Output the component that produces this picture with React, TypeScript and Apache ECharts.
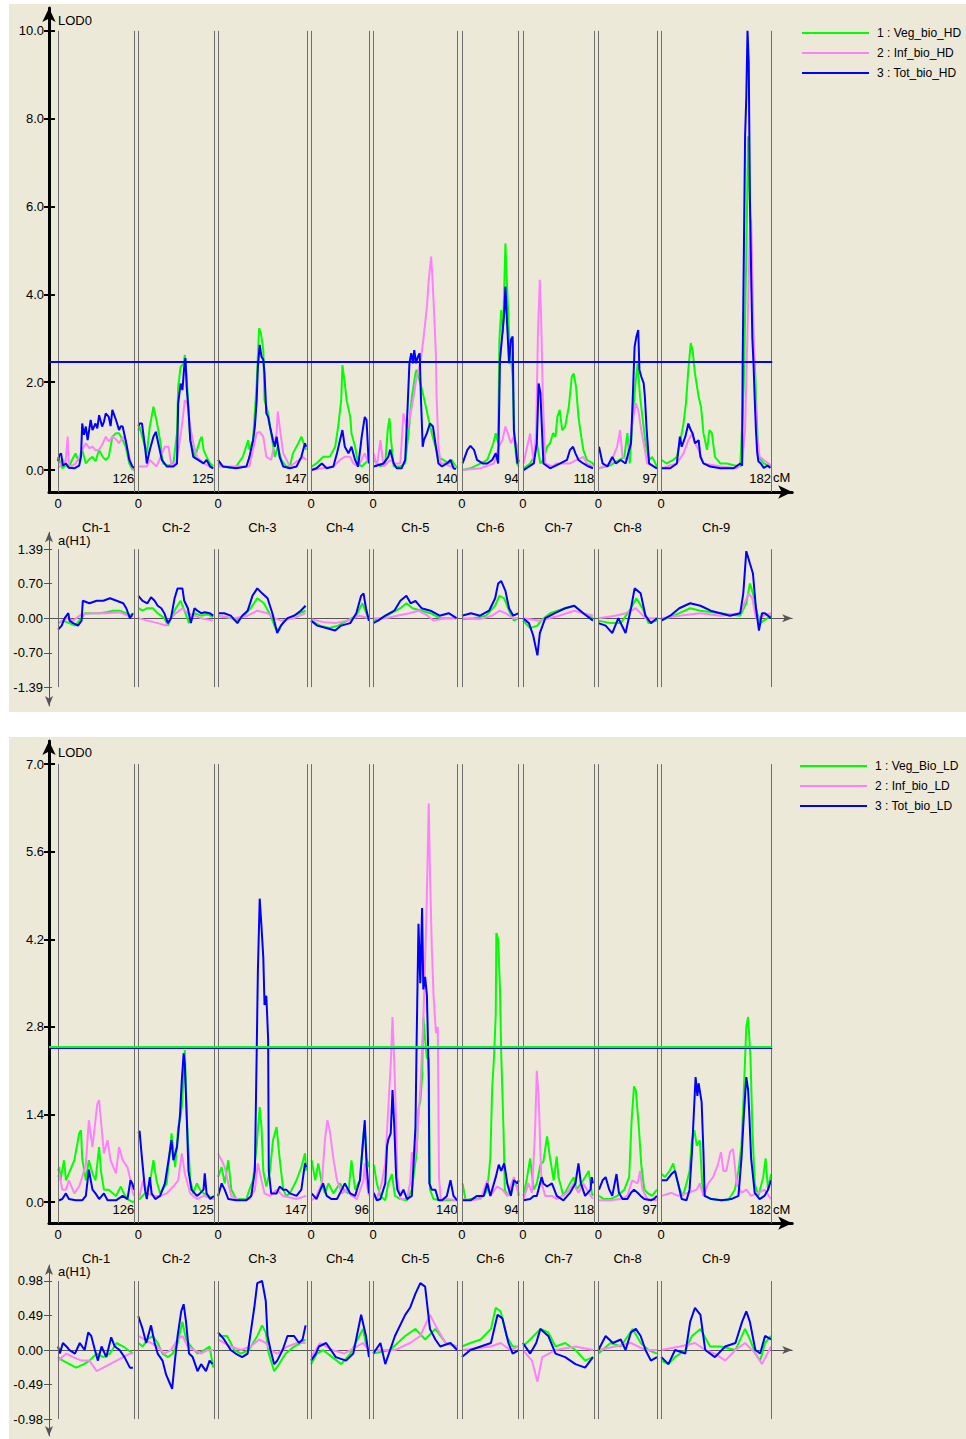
import React, { useEffect, useRef } from 'react';
import * as echarts from 'echarts';

// ---------------- data ----------------
const CHROM_NAMES = ['Ch-1', 'Ch-2', 'Ch-3', 'Ch-4', 'Ch-5', 'Ch-6', 'Ch-7', 'Ch-8', 'Ch-9'];
const CHROM_LENGTHS = [126, 125, 147, 96, 140, 94, 118, 97, 182];
const CHROM_GAP = 7;

const LOD_TICKS_HD = [0, 2, 4, 6, 8, 10];
const LOD_TICKS_LD = [0, 1.4, 2.8, 4.2, 5.6, 7.0];
const ADD_TICKS_HD = [-1.39, -0.7, 0, 0.7, 1.39];
const ADD_TICKS_LD = [-0.98, -0.49, 0, 0.49, 0.98];

const THRESHOLD_HD = 2.47;
const THRESHOLD_LD_VEG = 2.48;
const THRESHOLD_LD_TOT = 2.46;

const NAMES_HD = ['1 : Veg_bio_HD', '2 : Inf_bio_HD', '3 : Tot_bio_HD'];
const NAMES_LD = ['1 : Veg_Bio_LD', '2 : Inf_bio_LD', '3 : Tot_bio_LD'];
const COLORS = ['#00FF00', '#FF80FF', '#0000FF'];

// [cM within chromosome, LOD] per chromosome
const lodVegHD = [
  [[0,0.3],[2,0.23],[7,0.04],[12,0.1],[18,0.08],[24,0.25],[29,0.38],[34,0.2],[40,0.46],[46,0.15],[52,0.25],[57,0.3],[62,0.2],[68,0.46],[74,0.3],[79,0.23],[84,0.3],[90,0.76],[96,0.84],[101,0.84],[107,0.68],[112,0.53],[118,0.15],[123,0.02],[126,0]],
  [[0,0.9],[2,0.99],[8,0.68],[14,0.38],[19,0.99],[25,1.44],[30,1.14],[36,0.68],[41,0.15],[50,0.1],[58,0.15],[64,0.84],[66,1.9],[70,2.35],[75,2.43],[77,2.62],[80,2.13],[86,0.68],[94,0.3],[102,0.68],[105,0.76],[108,0.46],[113,0.3],[119,0.15],[124,0.08]],
  [[0,0.15],[8,0.08],[20,0.05],[30,0.08],[41,0.3],[50,0.68],[52,0.46],[58,0.68],[64,1.97],[68,3.23],[71,3.11],[75,2.73],[77,1.59],[83,1.29],[86,0.99],[88,0.84],[94,0.3],[99,0.53],[105,0.23],[113,0.08],[119,0.08],[124,0.38],[133,0.61],[138,0.76],[144,0.53],[146,0.46]],
  [[1,0.08],[9,0.15],[20,0.3],[31,0.3],[40,0.53],[45,0.99],[50,1.59],[52,2.39],[56,1.97],[59,1.59],[65,1.21],[67,0.84],[73,0.53],[78,0.15],[84,0.08],[89,0.15],[96,0.23]],
  [[1,0.23],[12,0.08],[20,0.15],[24,0.91],[27,1.18],[29,0.76],[34,0.08],[45,0.08],[53,0.15],[59,0.91],[64,1.67],[70,2.2],[72,2.28],[75,2.13],[81,1.82],[86,1.52],[92,1.14],[97,0.84],[103,0.53],[108,0.3],[116,0.23],[125,0.15],[130,0.23],[137,0.08],[140,0.05]],
  [[1,0],[14,0.04],[31,0.15],[42,0.23],[52,0.61],[56,0.84],[60,0.61],[62,2.96],[65,3.64],[68,3.11],[72,5.16],[75,4.1],[78,3.11],[81,2.58],[84,2.13],[87,0.68],[91,0.15],[94,0.08]],
  [[1,0.04],[12,0.15],[18,0.3],[23,0.61],[29,0.15],[34,0.23],[40,0.53],[45,0.61],[50,0.84],[54,0.76],[57,1.21],[61,1.37],[65,0.91],[70,0.99],[76,1.44],[81,2.13],[84,2.2],[88,1.9],[92,1.21],[95,0.91],[100,0.46],[106,0.23],[116,0.15],[118,0.1]],
  [[1,0.04],[20,0.11],[43,0.3],[48,0.84],[52,0.15],[56,1.06],[62,2.05],[65,2.43],[69,1.67],[73,1.21],[78,0.61],[84,0.23],[89,0.3],[97,0.08]],
  [[1,0.23],[9,0.15],[20,0.23],[26,0.3],[31,0.61],[37,1.06],[41,1.52],[45,2.28],[49,2.89],[52,2.73],[56,2.2],[62,1.67],[66,1.44],[70,0.84],[76,0.46],[80,0.91],[84,0.84],[89,0.3],[98,0.15],[109,0.15],[120,0.11],[131,0.08],[135,1.29],[137,2.05],[141,4.9],[144,7.6],[146,6.5],[149,5.0],[151,3.6],[153,2.89],[156,2.13],[158,1.29],[161,0.3],[170,0.15],[181,0.08]],
];
const lodInfHD = [
  [[0,0.05],[4,0.1],[8,0.25],[12,0.1],[16,0.76],[18,0.05],[24,0.1],[29,0.15],[35,0.3],[40,0.46],[46,0.61],[52,0.5],[57,0.53],[62,0.45],[68,0.46],[74,0.6],[79,0.76],[84,0.65],[90,0.76],[96,0.7],[101,0.61],[105,0.7],[109,0.76],[114,0.55],[118,0.3],[123,0.05],[126,0.02]],
  [[0,0.08],[2,0.08],[14,0.08],[19,0.23],[30,0.08],[44,0.53],[50,0.53],[55,0.08],[64,0.23],[72,0.99],[77,1.59],[81,1.52],[86,0.99],[91,0.61],[97,0.3],[108,0.15],[124,0.04]],
  [[0,0.08],[30,0.08],[52,0.08],[58,0.46],[64,0.84],[69,0.87],[75,0.76],[80,0.3],[88,0.23],[97,0.84],[99,1.33],[102,0.99],[108,0.38],[119,0.08],[141,0.3],[146,0.23]],
  [[1,0],[37,0.08],[48,0.23],[56,0.3],[65,0.3],[70,0.15],[78,0.08],[89,0.38],[95,0.15]],
  [[1,0.38],[6,0.08],[12,0.68],[17,0.08],[23,0.15],[28,0.23],[36,0.15],[45,0.15],[50,1.29],[56,0.91],[61,1.21],[67,1.67],[72,2.13],[78,2.43],[83,2.96],[89,3.72],[92,4.33],[96,4.86],[98,4.4],[101,3.57],[104,2.58],[105,1.67],[108,0.53],[112,0.15],[119,0.15],[128,0.08],[137,0.08]],
  [[1,0],[31,0.04],[53,0.15],[61,0.53],[67,0.68],[72,0.99],[76,0.84],[81,0.61],[86,0.76],[92,0.53],[94,0.15]],
  [[1,0.15],[7,0.53],[12,0.83],[18,0.15],[22,0.91],[25,3.19],[28,4.33],[30,3.57],[33,1.67],[37,0.15],[48,0.08],[56,0.15],[78,0.15],[89,0.23],[100,0.3],[106,0.15],[116,0.08]],
  [[1,0.04],[20,0.15],[31,0.53],[36,0.91],[40,0.3],[48,0.23],[56,1.06],[62,1.52],[66,1.37],[71,0.91],[76,0.53],[81,0.15],[97,0.04]],
  [[1,0.04],[26,0.15],[37,0.38],[45,0.68],[51,0.83],[56,0.61],[62,0.46],[70,0.15],[98,0.08],[125,0.04],[134,0.15],[139,0.91],[143,3.19],[147,5.5],[149,5.7],[151,4.5],[153,3.19],[156,1.67],[158,0.91],[163,0.3],[170,0.23],[178,0.15],[182,0.1]],
];
const lodTotHD = [
  [[0,0.2],[2,0.34],[5,0.38],[8,0.1],[13,0.15],[18,0.05],[27,0.04],[35,0.1],[38,0.3],[40,1.06],[43,0.8],[46,0.99],[49,0.68],[54,1.14],[57,0.91],[62,1.06],[65,0.95],[68,1.25],[73,0.99],[76,1.1],[79,1.29],[84,1.21],[87,1.0],[90,1.37],[96,1.14],[101,0.91],[104,1.0],[107,0.99],[112,0.68],[118,0.23],[123,0.08],[126,0.05]],
  [[0,1.0],[2,1.06],[6,1.06],[11,0.53],[14,0.15],[19,0.46],[25,0.76],[29,0.87],[33,0.61],[39,0.23],[47,0.08],[58,0.08],[64,0.15],[66,1.52],[70,1.97],[73,1.82],[76,2.35],[78,2.55],[80,1.9],[83,1.37],[86,0.68],[91,0.3],[99,0.23],[108,0.15],[113,0.23],[119,0.08],[124,0.04]],
  [[0,0.23],[8,0.08],[30,0.04],[47,0.08],[52,0.3],[58,0.68],[61,0.99],[64,1.59],[66,2.35],[69,2.85],[72,2.58],[75,2.51],[77,2.2],[80,1.29],[83,1.21],[86,0.99],[91,0.68],[94,0.53],[97,0.76],[102,0.3],[108,0.08],[119,0.04],[130,0.08],[138,0.3],[144,0.61],[146,0.53]],
  [[1,0],[9,0.04],[18,0.15],[26,0.04],[37,0.08],[43,0.38],[48,0.68],[52,0.91],[56,0.53],[62,0.38],[67,0.53],[73,0.23],[78,0.08],[84,0.76],[89,1.21],[92,1.14],[95,0.3],[96,0.15]],
  [[1,0.08],[17,0.15],[25,0.3],[28,0.46],[34,0.15],[39,0.04],[47,0.04],[53,0.23],[57,1.44],[60,2.43],[63,2.66],[66,2.43],[68,2.73],[71,2.43],[74,2.58],[77,2.66],[79,1.67],[82,0.53],[84,0.68],[89,0.84],[94,1.06],[99,0.99],[103,0.61],[108,0.15],[114,0.08],[122,0.15],[128,0.23],[133,0.04],[137,0.02]],
  [[1,0.15],[9,0.46],[14,0.55],[20,0.46],[25,0.23],[34,0.15],[42,0.15],[50,0.23],[56,0.38],[60,0.15],[62,1.67],[63,2.51],[66,2.96],[70,3.57],[72,4.18],[75,3.27],[78,2.43],[81,2.96],[84,3.04],[86,0.91],[89,0.53],[92,0.15],[94,0.23]],
  [[1,0],[18,0.15],[23,0.61],[26,1.97],[29,1.75],[32,0.76],[34,0.15],[45,0.04],[62,0.15],[73,0.23],[78,0.46],[83,0.53],[87,0.38],[92,0.23],[100,0.15],[109,0.08],[116,0.04]],
  [[1,0.53],[7,0.15],[15,0.08],[23,0.3],[29,0.15],[37,0.23],[45,0.15],[54,0.61],[57,1.67],[60,2.81],[63,3.04],[66,3.19],[68,2.28],[71,2.13],[75,1.98],[77,1.67],[80,0.91],[84,0.15],[92,0.08],[97,0.04]],
  [[1,0.04],[15,0.04],[26,0.15],[31,0.76],[34,0.53],[40,0.76],[45,1.06],[49,0.91],[52,0.84],[56,0.61],[62,0.68],[65,0.3],[70,0.15],[81,0.08],[98,0.04],[120,0.04],[131,0.15],[134,0.1],[135,2.5],[137,5.0],[139,7.6],[141,8.5],[143,10.0],[145,9.3],[147,6.2],[149,4.5],[151,3.0],[153,2.4],[155,1.6],[157,0.9],[159,0.4],[161,0.2],[165,0.15],[170,0.05],[176,0.1],[181,0.05]],
];

// [cM, additive effect a(H1)] per chromosome
const addVegHD = [
  [[0,-0.1],[8,-0.05],[19,-0.1],[28,-0.15],[39,0],[44,0.1],[55,0.1],[69,0.1],[80,0.12],[91,0.15],[102,0.15],[113,0.1],[121,0.05],[124,0.05]],
  [[0,0.2],[7,0.15],[15,0.2],[24,0.2],[32,0.1],[43,0],[49,-0.15],[54,0],[62,0.2],[70,0.35],[78,0.1],[84,-0.1],[93,0.1],[104,0.05],[114,0.08],[124,0.02]],
  [[0,0.05],[21,0],[32,-0.05],[43,0.05],[54,0.2],[65,0.4],[76,0.3],[87,0.05],[95,-0.2],[101,-0.25],[109,-0.05],[126,0.05],[145,0.15]],
  [[0,-0.05],[15,-0.15],[30,-0.2],[45,-0.15],[60,-0.05],[75,0.05],[85,0.3],[90,0.15],[96,-0.05]],
  [[0,-0.05],[15,0],[30,0.1],[45,0.2],[55,0.3],[65,0.2],[80,0.15],[95,0.1],[110,0],[138,0]],
  [[0,-0.02],[20,0],[40,0.05],[55,0.25],[62,0.45],[70,0.4],[78,0.15],[86,-0.05],[94,0]],
  [[0,-0.05],[12,-0.2],[24,-0.15],[30,-0.05],[45,0.1],[70,0.2],[85,0.25],[100,0.1],[116,0]],
  [[0,-0.05],[20,-0.1],[37,-0.1],[54,0.2],[63,0.4],[73,0.2],[83,-0.1],[97,-0.05]],
  [[0,-0.05],[30,0.1],[48,0.2],[65,0.15],[98,0.1],[131,0.05],[141,0.3],[147,0.7],[152,0.5],[159,0.1],[164,-0.1],[182,0.05]],
];
const addInfHD = [
  [[0,-0.1],[14,0],[25,-0.05],[39,0.08],[58,0.1],[80,0.1],[102,0.12],[119,0.03],[124,0.05]],
  [[0,0],[15,-0.05],[32,-0.1],[46,-0.15],[54,0],[62,0.1],[73,0.2],[82,0.1],[93,0.05],[104,0],[124,-0.05]],
  [[0,0.05],[27,0],[49,0.05],[65,0.15],[82,0.1],[93,0],[104,-0.05],[126,0],[145,0.1]],
  [[0,-0.02],[20,-0.08],[40,-0.1],[60,-0.05],[80,0.05],[96,0]],
  [[0,0],[20,0],[40,0.05],[60,0.1],[75,0.15],[90,0.05],[100,-0.05],[120,0],[138,0]],
  [[0,0],[30,-0.02],[50,0.05],[62,0.15],[72,0.1],[85,0],[94,0]],
  [[0,0],[28,-0.05],[60,0.05],[85,0.15],[100,0.1],[116,0.05]],
  [[0,0],[28,0.05],[45,0.1],[62,0.2],[78,0],[97,0]],
  [[0,0],[30,0.05],[65,0.1],[98,0.05],[131,0.1],[145,0.5],[151,0.4],[157,0],[182,0.1]],
];
const addTotHD = [
  [[0,-0.23],[6,-0.15],[11,0],[17,0.1],[19,-0.05],[25,-0.1],[33,-0.15],[39,-0.05],[41,0.35],[52,0.3],[64,0.35],[75,0.35],[86,0.4],[97,0.35],[108,0.3],[113,0.2],[119,0],[124,0.1]],
  [[0,0.45],[7,0.35],[15,0.3],[21,0.42],[27,0.35],[32,0.25],[38,0.2],[43,0.1],[49,-0.1],[54,0],[60,0.4],[65,0.6],[73,0.6],[76,0.35],[82,0.2],[87,-0.1],[93,0.2],[98,0.15],[104,0.1],[110,0.12],[118,0.1],[124,0.05]],
  [[0,0.1],[10,0.1],[21,0.05],[32,-0.1],[40,0.05],[49,0.15],[57,0.45],[65,0.6],[73,0.5],[82,0.4],[90,0.1],[98,-0.3],[104,-0.15],[115,0],[126,0.05],[137,0.15],[145,0.25]],
  [[0,-0.05],[10,-0.15],[25,-0.2],[40,-0.25],[50,-0.15],[65,-0.1],[75,0.1],[83,0.45],[87,0.5],[91,0.2],[96,-0.05]],
  [[0,-0.1],[8,-0.05],[20,0.05],[35,0.15],[45,0.35],[55,0.45],[62,0.3],[70,0.35],[80,0.2],[95,0.15],[110,0.05],[125,0.1],[138,0]],
  [[0,0.05],[15,0.1],[30,0.05],[45,0.15],[55,0.4],[60,0.7],[65,0.75],[72,0.55],[78,0.2],[85,0.05],[94,0.1]],
  [[0,0],[10,-0.1],[17,-0.35],[24,-0.75],[28,-0.3],[37,0],[53,0.1],[70,0.2],[85,0.25],[100,0.1],[116,-0.05]],
  [[0,-0.1],[12,-0.15],[23,-0.3],[33,0],[45,-0.3],[54,0.2],[60,0.6],[70,0.5],[78,0.05],[87,-0.1],[97,0]],
  [[0,-0.05],[15,0.05],[30,0.2],[48,0.3],[65,0.25],[82,0.15],[98,0.1],[114,0.05],[131,0.1],[136,0.5],[141,1.35],[147,1.1],[152,0.9],[157,0.2],[162,-0.25],[167,0.1],[172,0.1],[182,0]],
];

const lodVegLD = [
  [[0,0.5],[2,0.56],[4,0.35],[10,0.67],[13,0.35],[18,0.46],[27,0.67],[35,1.1],[38,1.15],[40,0.7],[46,0.35],[51,0.67],[57,0.46],[62,0.35],[68,0.88],[71,0.5],[76,0.2],[84,0.2],[96,0.1],[104,0.25],[109,0.14],[115,0.05],[124,0],[126,0.02]],
  [[0,0.05],[2,0.05],[11,0.14],[19,0.3],[25,0.67],[30,0.35],[36,0.14],[47,0.3],[55,1.1],[61,0.56],[66,1.2],[69,1.31],[72,1.52],[75,2.0],[77,2.43],[80,1.4],[86,0.35],[91,0.14],[97,0.3],[102,0.2],[108,0.14],[116,0.1],[125,0.05]],
  [[0,0.4],[6,0.56],[11,0.3],[17,0.67],[22,0.2],[30,0.05],[47,0.05],[52,0.2],[58,0.35],[64,0.9],[69,1.52],[72,1.2],[75,0.5],[80,0.25],[86,0.5],[91,0.99],[97,1.2],[102,0.7],[108,0.2],[113,0.1],[119,0.14],[130,0.35],[138,0.56],[144,0.78],[146,0.5]],
  [[1,0.67],[7,0.35],[12,0.62],[18,0.3],[23,0.14],[29,0.3],[37,0.14],[48,0.3],[54,0.2],[62,0.14],[67,0.67],[73,0.2],[81,0.35],[87,1.1],[89,1.2],[92,0.7],[96,0.56]],
  [[1,0.6],[6,0.3],[12,0.1],[20,0.03],[25,0.3],[31,0.45],[36,0.1],[45,0.05],[56,0.03],[64,0.2],[72,0.8],[75,1.5],[78,1.6],[81,2.0],[83,2.96],[86,2.6],[89,2.3],[92,2.3],[94,0.2],[100,0.05],[111,0.03],[128,0.03],[139,0.03]],
  [[1,0.3],[6,0.03],[14,0.05],[25,0.05],[36,0.1],[42,0.2],[47,0.7],[50,1.8],[53,2.3],[56,3.0],[57,4.3],[60,4.2],[63,3.4],[65,2.4],[69,1.1],[71,0.2],[75,0.1],[81,0.2],[86,0.3],[92,0.25],[94,0.1]],
  [[1,0.1],[7,0.4],[12,0.7],[18,0.2],[23,0.3],[29,0.6],[34,0.65],[40,1.05],[45,0.7],[51,0.35],[56,0.73],[59,0.4],[67,0.1],[78,0.3],[84,0.4],[89,0.2],[100,0.35],[109,0.5],[114,0.15],[116,0.1]],
  [[1,0.1],[9,0.05],[20,0.05],[31,0.1],[43,0.2],[51,0.4],[55,1.3],[59,1.85],[62,1.79],[67,1.2],[71,0.6],[76,0.2],[81,0.15],[89,0.1],[97,0.2]],
  [[1,0.45],[6,0.4],[14,0.5],[20,0.62],[25,0.4],[31,0.2],[36,0.1],[42,0.3],[47,0.5],[51,1.0],[55,1.15],[59,0.9],[64,0.99],[68,0.3],[72,0.1],[83,0.05],[100,0.03],[111,0.03],[122,0.2],[128,0.5],[133,0.9],[137,1.79],[141,2.8],[144,2.96],[148,2.3],[151,1.2],[155,0.3],[161,0.1],[169,0.4],[173,0.7],[177,0.2],[182,0.45]],
];
const lodInfLD = [
  [[0,0.4],[2,0.46],[7,0.2],[13,0.2],[18,0.35],[27,0.14],[35,0.25],[40,0.4],[46,0.6],[51,1.31],[57,0.88],[62,1.31],[65,1.57],[68,1.63],[71,1.31],[76,0.78],[82,0.99],[87,0.67],[96,0.46],[101,0.88],[107,0.67],[115,0.56],[120,0.35],[124,0.14],[126,0.1]],
  [[0,0.1],[2,0.1],[8,0.35],[14,0.14],[25,0.1],[36,0.1],[47,0.14],[58,0.25],[66,0.35],[72,0.78],[77,0.46],[86,0.14],[97,0.05],[108,0.1],[125,0.05]],
  [[0,0.78],[6,0.67],[11,0.56],[17,0.3],[22,0.1],[36,0.03],[52,0.05],[61,0.2],[66,0.62],[72,0.35],[77,0.14],[86,0.1],[97,0.2],[108,0.1],[130,0.05],[146,0.1]],
  [[1,0.03],[9,0.1],[18,0.3],[23,0.99],[27,1.31],[31,1.15],[37,0.7],[43,0.35],[51,0.14],[59,0.2],[67,0.1],[76,0.05],[87,0.35],[89,0.62],[92,0.3],[96,0.1]],
  [[1,0.1],[6,0.05],[14,0.3],[20,0.62],[25,1.5],[29,2.2],[32,2.96],[35,2.2],[38,1.26],[40,0.4],[45,0.05],[56,0.05],[61,0.3],[64,0.8],[67,0.6],[72,0.9],[78,1.8],[83,2.9],[88,4.5],[92,6.37],[94,5.3],[97,4.1],[100,3.3],[104,2.7],[107,2.8],[109,0.4],[112,0.03],[122,0.05],[139,0.03]],
  [[1,0.05],[14,0.03],[31,0.05],[42,0.35],[47,0.1],[58,0.25],[67,0.2],[75,0.1],[86,0.4],[92,0.2],[94,0.1]],
  [[1,0.05],[9,0.3],[15,0.15],[20,1.1],[23,2.1],[26,1.7],[29,0.8],[31,0.3],[37,0.1],[48,0.1],[56,0.05],[73,0.15],[84,0.3],[92,0.15],[100,0.3],[109,0.15],[116,0.05]],
  [[1,0.03],[20,0.03],[37,0.05],[48,0.1],[56,0.35],[65,0.3],[69,0.5],[73,0.2],[81,0.05],[97,0.03]],
  [[1,0.1],[17,0.15],[28,0.1],[45,0.15],[59,0.2],[64,0.3],[70,0.1],[78,0.3],[86,0.4],[94,0.6],[99,0.8],[103,0.5],[108,0.5],[114,0.8],[119,0.85],[125,0.3],[133,0.15],[141,0.2],[149,0.1],[161,0.15],[171,0.2],[182,0.05]],
];
const lodTotLD = [
  [[0,0.03],[2,0.03],[7,0.05],[13,0.14],[18,0.05],[29,0.03],[40,0.03],[46,0.1],[51,0.52],[57,0.2],[62,0.14],[68,0.05],[76,0.14],[82,0.03],[96,0.03],[107,0.1],[115,0.05],[120,0.35],[123,0.3],[126,0.2]],
  [[0,1.1],[2,1.14],[6,0.7],[11,0.2],[14,0.05],[19,0.4],[22,0.14],[28,0.05],[36,0.1],[44,0.3],[50,0.67],[55,0.99],[58,0.67],[64,0.88],[69,1.4],[72,1.95],[75,2.38],[77,2.2],[80,1.4],[83,0.5],[88,0.2],[97,0.1],[102,0.14],[108,0.2],[110,0.46],[113,0.14],[119,0.05],[125,0.1]],
  [[0,0.1],[6,0.3],[11,0.2],[17,0.05],[30,0.03],[47,0.03],[55,0.1],[61,0.5],[64,2.38],[66,3.7],[69,4.85],[72,4.4],[75,3.9],[77,3.15],[80,3.3],[83,2.6],[84,0.5],[88,0.14],[97,0.14],[102,0.25],[108,0.2],[113,0.2],[119,0.14],[130,0.1],[138,0.2],[144,0.62],[146,0.56]],
  [[1,0.14],[9,0.05],[20,0.3],[26,0.1],[34,0.05],[43,0.05],[51,0.2],[56,0.3],[65,0.14],[73,0.1],[81,0.35],[89,1.31],[92,0.6],[96,0.14]],
  [[1,0.15],[6,0.03],[12,0.05],[20,0.3],[23,0.9],[25,1.0],[29,1.1],[32,1.79],[35,1.2],[38,0.4],[40,0.2],[45,0.1],[50,0.2],[56,0.05],[64,0.1],[70,1.2],[72,2.6],[75,4.45],[78,3.5],[81,4.7],[83,3.4],[86,3.6],[89,3.3],[92,2.0],[93,0.3],[97,0.2],[103,0.2],[108,0.03],[114,0.03],[122,0.1],[128,0.35],[133,0.1],[139,0.03]],
  [[1,0.03],[14,0.03],[25,0.1],[36,0.1],[42,0.3],[47,0.1],[56,0.4],[61,0.6],[65,0.5],[70,0.62],[72,0.5],[75,0.3],[81,0.1],[86,0.35],[92,0.3],[94,0.35]],
  [[1,0.03],[12,0.05],[18,0.1],[23,0.1],[31,0.4],[34,0.3],[40,0.25],[48,0.3],[56,0.1],[67,0.03],[78,0.15],[87,0.3],[92,0.62],[96,0.3],[103,0.1],[112,0.2],[114,0.4],[116,0.3]],
  [[1,0.2],[7,0.35],[12,0.4],[18,0.2],[23,0.1],[30,0.45],[34,0.15],[40,0.05],[48,0.05],[54,0.15],[59,0.2],[65,0.15],[70,0.1],[76,0.05],[87,0.03],[92,0.05],[97,0.1]],
  [[1,0.35],[9,0.35],[17,0.45],[23,0.5],[28,0.3],[34,0.05],[42,0.03],[47,0.2],[51,0.8],[55,1.6],[57,2.0],[60,1.7],[62,1.9],[67,1.6],[70,0.8],[72,0.1],[83,0.05],[100,0.03],[116,0.05],[128,0.1],[133,0.7],[137,1.4],[141,2.0],[144,1.8],[146,1.4],[149,0.7],[155,0.15],[163,0.05],[171,0.1],[177,0.2],[182,0.35]],
];

const addVegLD = [
  [[0,-0.1],[8,-0.15],[19,-0.2],[30,-0.25],[43,-0.2],[52,-0.15],[64,-0.05],[75,-0.1],[86,-0.05],[97,0.1],[108,0.05],[116,0],[124,-0.05]],
  [[0,0.1],[7,0.05],[15,0.15],[24,0.2],[32,0.1],[40,-0.05],[49,-0.1],[57,-0.05],[65,0.1],[73,0.4],[79,0.15],[87,0.05],[98,-0.05],[109,0],[118,0.05],[124,-0.25]],
  [[0,0.2],[15,0.2],[27,0],[38,-0.05],[51,0],[65,0.2],[73,0.35],[79,0.25],[84,-0.05],[93,-0.3],[101,-0.2],[112,-0.05],[126,0.05],[137,0.1],[145,0.15]],
  [[0,-0.2],[10,-0.05],[20,0],[35,-0.1],[50,-0.2],[65,-0.05],[80,0.2],[86,0.3],[92,0.05],[96,0]],
  [[0,-0.05],[28,0],[53,0.2],[70,0.3],[86,0.15],[103,0.3],[120,0.1],[139,0.05]],
  [[0,0.05],[14,0.1],[31,0.15],[48,0.3],[56,0.6],[64,0.55],[74,0.2],[84,0.05],[94,0.05]],
  [[0,0.05],[12,0.15],[29,0.3],[42,0.25],[54,0.05],[70,0.1],[87,0],[103,-0.15],[116,-0.1]],
  [[0,-0.05],[20,0.1],[37,0.05],[57,0.3],[70,0.1],[83,0],[97,-0.05]],
  [[0,-0.15],[12,-0.2],[23,-0.1],[40,0],[51,0.2],[65,0.3],[81,0.05],[98,0.05],[123,0],[139,0.3],[147,0.15],[156,-0.05],[164,-0.15],[172,0.1],[182,0.2]],
];
const addInfLD = [
  [[0,-0.15],[14,-0.05],[25,-0.1],[39,-0.15],[52,-0.15],[64,-0.3],[75,-0.25],[86,-0.2],[97,-0.15],[108,-0.1],[119,-0.05],[124,-0.05]],
  [[0,0.2],[10,0.15],[21,0.1],[32,0.05],[43,-0.05],[54,0],[65,0.15],[73,0.2],[82,0.05],[93,0],[104,-0.05],[114,0],[124,0]],
  [[0,0.15],[21,0.05],[38,0],[54,0.05],[68,0.15],[79,0.1],[87,0],[98,-0.05],[115,0.05],[131,0.1],[145,0.1]],
  [[0,-0.1],[15,0.1],[35,0],[55,-0.05],[86,0.1],[96,0]],
  [[0,0],[36,0],[61,0.1],[78,0.2],[94,0.5],[103,0.35],[120,0.1],[139,0.05]],
  [[0,0],[48,0.05],[64,0.1],[80,0],[94,0.05]],
  [[0,0],[15,-0.15],[24,-0.45],[32,-0.1],[54,0],[87,0.05],[116,0]],
  [[0,0],[28,0.05],[54,0.1],[78,0],[97,0]],
  [[0,0],[31,0.05],[56,0.1],[73,0],[89,-0.05],[106,-0.15],[123,0],[139,0.1],[156,-0.05],[167,-0.2],[182,0.05]],
];
const addTotLD = [
  [[0,0.05],[3,-0.05],[8,0.1],[14,0.05],[19,0],[28,-0.05],[36,0.1],[44,0],[50,0.25],[55,0.2],[61,0],[66,-0.15],[72,0.05],[80,-0.1],[88,0.18],[94,0.05],[102,0],[110,-0.1],[119,-0.25],[124,-0.25]],
  [[0,0.48],[7,0.3],[13,0.1],[21,0.35],[27,0.1],[32,-0.05],[40,-0.15],[46,-0.35],[51,-0.45],[56,-0.55],[60,-0.2],[65,0.2],[71,0.55],[75,0.65],[79,0.4],[84,-0.05],[90,-0.1],[98,-0.3],[104,-0.2],[112,-0.3],[118,-0.15],[123,-0.2]],
  [[0,0.25],[10,0.15],[21,0],[29,-0.05],[40,-0.1],[49,-0.05],[60,0.6],[65,0.95],[73,0.98],[79,0.7],[82,0.2],[87,0],[93,-0.2],[98,-0.15],[107,0],[115,0.2],[126,0.2],[134,0.1],[140,0.15],[145,0.35]],
  [[0,-0.15],[8,-0.05],[13,0.05],[25,0.1],[41,-0.1],[58,-0.15],[70,-0.05],[83,0.5],[91,0.2],[96,-0.1]],
  [[0,-0.05],[12,0.1],[20,-0.2],[36,0.2],[53,0.5],[61,0.6],[70,0.8],[78,0.95],[86,0.9],[94,0.3],[103,0.15],[111,0.05],[128,0.1],[139,0]],
  [[0,-0.1],[14,0],[31,0.05],[48,0.1],[59,0.5],[67,0.45],[77,0.1],[84,-0.05],[94,0]],
  [[0,0.1],[12,-0.05],[22,0.1],[29,0.3],[42,0.2],[54,-0.05],[70,-0.1],[87,-0.2],[103,-0.25],[116,-0.1]],
  [[0,0],[12,0.2],[24,0.1],[37,0.15],[45,0],[54,0.25],[62,0.3],[70,0.2],[78,0],[87,-0.15],[97,-0.1]],
  [[0,-0.1],[12,-0.2],[23,0],[40,-0.05],[48,0.4],[56,0.6],[65,0.5],[73,0],[89,-0.1],[106,0.05],[123,0.1],[134,0.4],[141,0.55],[147,0.4],[156,0],[164,-0.05],[172,0.2],[182,0.15]],
];

// ---------------- layout ----------------
const FONT = "'Liberation Sans', Arial, sans-serif";
const BG = '#ECE9D8';
const X_MIN = -15;
const X_MAX = 1216;
const PX_PER_CM = 713 / 1181;
const PLOT_LEFT = 49;
const PLOT_WIDTH = (X_MAX - X_MIN) * PX_PER_CM;

const CHROM_OFFSETS: number[] = [];
{
  let acc = 0;
  CHROM_LENGTHS.forEach((l) => {
    CHROM_OFFSETS.push(acc);
    acc += l + CHROM_GAP;
  });
}
const CHROM_ENDS = CHROM_OFFSETS.map((o, i) => o + CHROM_LENGTHS[i]);
const CHROM_CENTERS = CHROM_OFFSETS.map((o, i) => o + CHROM_LENGTHS[i] / 2);
const GENOME_END = CHROM_ENDS[CHROM_ENDS.length - 1];

function flatten(chroms: number[][][]) {
  const out: any[] = [];
  chroms.forEach((pts, i) => {
    pts.forEach(([cm, v]) => out.push([CHROM_OFFSETS[i] + cm, v]));
    out.push([CHROM_ENDS[i] + CHROM_GAP / 2, '-']);
  });
  return out;
}

const PANELS = [
  {
    bgTop: 4, bgHeight: 708,
    lodTop: 8, lodHeight: 484, lodMin: -0.5, lodMax: 10.52, lodTicks: LOD_TICKS_HD, lodDigits: 1,
    addTop: 532.3, addHeight: 173.7, addMin: -1.77, addMax: 1.73, addTicks: ADD_TICKS_HD,
    names: NAMES_HD, lod: [lodVegHD, lodInfHD, lodTotHD], add: [addVegHD, addInfHD, addTotHD],
    thresholds: [{ value: THRESHOLD_HD, color: COLORS[2], width: 2 }],
    legendLeft: 797, legendTop: 22, lodLabelY: 20, addLabelY: 540, cmY: 477.5,
  },
  {
    bgTop: 737, bgHeight: 702,
    lodTop: 741, lodHeight: 482.2, lodMin: -0.336, lodMax: 7.37, lodTicks: LOD_TICKS_LD, lodDigits: 1,
    addTop: 1265, addHeight: 171, addMin: -1.22, addMax: 1.207, addTicks: ADD_TICKS_LD,
    names: NAMES_LD, lod: [lodVegLD, lodInfLD, lodTotLD], add: [addVegLD, addInfLD, addTotLD],
    thresholds: [
      { value: THRESHOLD_LD_TOT, color: COLORS[2], width: 1 },
      { value: THRESHOLD_LD_VEG, color: COLORS[0], width: 2 },
    ],
    legendLeft: 795, legendTop: 755, lodLabelY: 752, addLabelY: 1271, cmY: 1209,
  },
];

function findIdx(arr: number[], v: number) {
  let best = 0;
  let bd = Infinity;
  arr.forEach((a, i) => {
    const d = Math.abs(a - v);
    if (d < bd) { bd = d; best = i; }
  });
  return best;
}

function buildOption() {
  const grid: any[] = [];
  const xAxis: any[] = [];
  const yAxis: any[] = [];
  const series: any[] = [];
  const legend: any[] = [];
  const graphic: any[] = [];
  const txt = { color: '#000', fontSize: 13, fontFamily: FONT };

  PANELS.forEach((p) => {
    graphic.push({
      type: 'rect', z: -100, silent: true,
      shape: { x: 9, y: p.bgTop, width: 957, height: p.bgHeight },
      style: { fill: BG },
    });
    graphic.push({ type: 'text', x: 58, y: p.lodLabelY, z: 100, style: { text: 'LOD0', fill: '#000', font: `13px ${FONT}`, textVerticalAlign: 'middle', verticalAlign: 'middle' } });
    graphic.push({ type: 'text', x: 58, y: p.addLabelY, z: 100, style: { text: 'a(H1)', fill: '#000', font: `13px ${FONT}`, textVerticalAlign: 'middle', verticalAlign: 'middle' } });
    graphic.push({ type: 'text', x: 773, y: p.cmY, z: 100, style: { text: 'cM', fill: '#000', font: `13px ${FONT}`, textVerticalAlign: 'middle', verticalAlign: 'middle' } });

    const gL = grid.length;
    grid.push({ left: PLOT_LEFT, top: p.lodTop, width: PLOT_WIDTH, height: p.lodHeight, outerBoundsMode: 'none', containLabel: false });
    const gA = grid.length;
    grid.push({ left: PLOT_LEFT, top: p.addTop, width: PLOT_WIDTH, height: p.addHeight, outerBoundsMode: 'none', containLabel: false });

    // LOD x axes
    const xL = xAxis.length;
    xAxis.push({
      type: 'value', gridIndex: gL, min: X_MIN, max: X_MAX, position: 'bottom',
      axisLine: { show: true, onZero: false, symbol: ['none', 'arrow'], symbolSize: [10, 14], lineStyle: { color: '#000', width: 3 } },
      axisTick: { show: false }, splitLine: { show: false },
      axisLabel: { show: true, customValues: CHROM_OFFSETS, formatter: () => '0', margin: 5, ...txt },
    });
    xAxis.push({
      type: 'value', gridIndex: gL, min: X_MIN, max: X_MAX, position: 'bottom', offset: 0,
      axisLine: { show: false, onZero: false }, axisTick: { show: false }, splitLine: { show: false },
      axisLabel: {
        show: true, inside: true, customValues: CHROM_ENDS, align: 'right', margin: 7,
        formatter: (v: number) => String(CHROM_LENGTHS[findIdx(CHROM_ENDS, v)]), ...txt,
      },
    });
    xAxis.push({
      type: 'value', gridIndex: gL, min: X_MIN, max: X_MAX, position: 'bottom', offset: 0,
      axisLine: { show: false, onZero: false }, axisTick: { show: false }, splitLine: { show: false },
      axisLabel: {
        show: true, customValues: CHROM_CENTERS, margin: 29,
        formatter: (v: number) => CHROM_NAMES[findIdx(CHROM_CENTERS, v)], ...txt,
      },
    });
    const xA = xAxis.length;
    xAxis.push({
      type: 'value', gridIndex: gA, min: X_MIN, max: X_MAX, position: 'bottom',
      axisLine: { show: true, onZero: true, symbol: ['none', 'arrow'], symbolSize: [6, 10], lineStyle: { color: '#555', width: 1 } },
      axisTick: { show: false }, axisLabel: { show: false }, splitLine: { show: false },
    });

    // y axes
    const yL = yAxis.length;
    yAxis.push({
      type: 'value', gridIndex: gL, min: p.lodMin, max: p.lodMax, position: 'left',
      axisLine: { show: true, onZero: false, symbol: ['none', 'arrow'], symbolSize: [10, 14], lineStyle: { color: '#000', width: 3 } },
      axisTick: { show: true, customValues: p.lodTicks, length: 5, lineStyle: { color: '#000', width: 2 } },
      axisLabel: { show: true, customValues: p.lodTicks, formatter: (v: number) => v.toFixed(p.lodDigits), margin: 5, ...txt },
      splitLine: { show: false },
    });
    yAxis.push({
      type: 'value', gridIndex: gL, min: p.lodMin, max: p.lodMax, position: 'left', offset: 0,
      axisLine: { show: false, onZero: false },
      axisTick: { show: true, inside: true, customValues: p.lodTicks, length: 6, lineStyle: { color: '#000', width: 2 } },
      axisLabel: { show: false }, splitLine: { show: false },
    });
    const yA = yAxis.length;
    yAxis.push({
      type: 'value', gridIndex: gA, min: p.addMin, max: p.addMax, position: 'left',
      axisLine: { show: true, onZero: false, symbol: ['arrow', 'arrow'], symbolSize: [6, 10], lineStyle: { color: '#555', width: 1 } },
      axisTick: { show: true, customValues: p.addTicks, length: 5, lineStyle: { color: '#555', width: 1 } },
      axisLabel: { show: true, customValues: p.addTicks, formatter: (v: number) => v.toFixed(2), margin: 6, ...txt },
      splitLine: { show: false },
    });
    yAxis.push({
      type: 'value', gridIndex: gA, min: p.addMin, max: p.addMax, position: 'left', offset: 0,
      axisLine: { show: false, onZero: false },
      axisTick: { show: true, inside: true, customValues: p.addTicks, length: 3, lineStyle: { color: '#555', width: 1 } },
      axisLabel: { show: false }, splitLine: { show: false },
    });

    const lodTopVal = p.lodTicks[p.lodTicks.length - 1];
    const bounds = [...CHROM_OFFSETS, ...CHROM_ENDS];
    const chromLineStyle = { color: '#6e6e6e', width: 1, type: 'solid' };
    const lodMarks = [
      ...bounds.map((x) => [{ coord: [x, lodTopVal], lineStyle: chromLineStyle }, { coord: [x, p.lodMin] }]),
      ...p.thresholds.map((t) => [
        { coord: [X_MIN, t.value], lineStyle: { color: t.color, width: t.width, type: 'solid' } },
        { coord: [GENOME_END + 2, t.value] },
      ]),
    ];
    const addTop = p.addTicks[p.addTicks.length - 1];
    const addBottom = p.addTicks[0];
    const addMarks = bounds.map((x) => [{ coord: [x, addTop], lineStyle: chromLineStyle }, { coord: [x, addBottom] }]);

    const mk = (data: any[]) => ({
      symbol: ['none', 'none'], silent: true, animation: false,
      label: { show: false }, emphasis: { disabled: true },
      lineStyle: chromLineStyle, data,
    });

    p.lod.forEach((d, s) => {
      series.push({
        type: 'line', name: p.names[s], xAxisIndex: xL, yAxisIndex: yL,
        data: flatten(d), symbol: 'none', showSymbol: false, connectNulls: false,
        lineStyle: { color: COLORS[s], width: 2 }, itemStyle: { color: COLORS[s] },
        z: 2 + s, silent: true,
        ...(s === 0 ? { markLine: mk(lodMarks) } : {}),
      });
    });
    p.add.forEach((d, s) => {
      series.push({
        type: 'line', name: p.names[s], xAxisIndex: xA, yAxisIndex: yA,
        data: flatten(d), symbol: 'none', showSymbol: false, connectNulls: false,
        lineStyle: { color: COLORS[s], width: 2 }, itemStyle: { color: COLORS[s] },
        z: 2 + s, silent: true,
        ...(s === 0 ? { markLine: mk(addMarks) } : {}),
      });
    });

    legend.push({
      data: p.names, orient: 'vertical', left: p.legendLeft, top: p.legendTop,
      itemWidth: 67, itemHeight: 2, itemGap: 8, icon: 'rect', selectedMode: false,
      textStyle: { ...txt, fontSize: 12, padding: [0, 0, 0, 3] },
    });
  });

  return {
    animation: false,
    backgroundColor: '#ffffff',
    textStyle: { fontFamily: FONT },
    grid, xAxis, yAxis, series, legend, graphic,
  };
}

export default function App() {
  const ref = useRef<HTMLDivElement>(null);
  useEffect(() => {
    if (!ref.current) return;
    const chart = echarts.init(ref.current, undefined, { renderer: 'svg' });
    chart.setOption(buildOption() as any);
    return () => chart.dispose();
  }, []);
  return (
    <div
      ref={ref}
      style={{ position: 'absolute', left: 0, top: 0, width: 966, height: 1439 }}
    />
  );
}
